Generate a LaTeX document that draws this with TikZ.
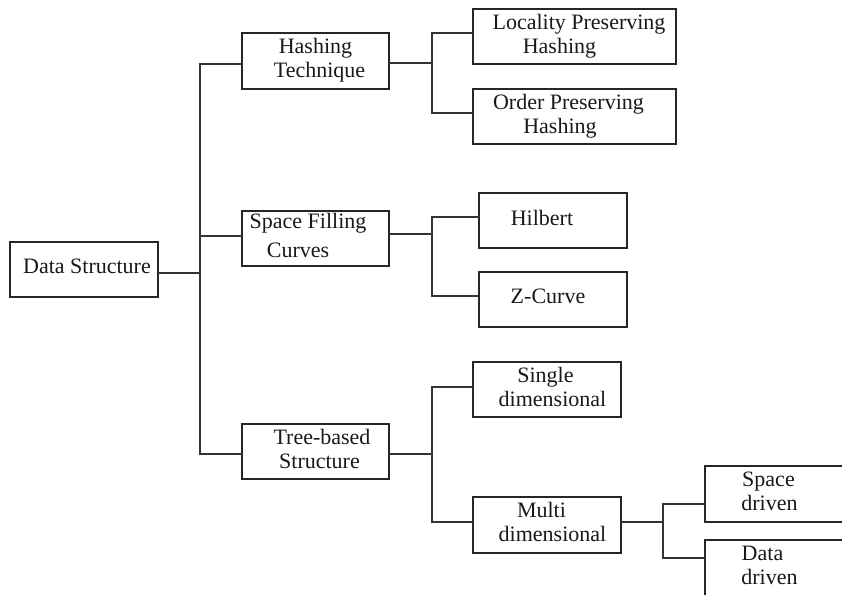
\documentclass[tikz,border=0pt]{standalone}
\usepackage{fontspec}
\setmainfont{Liberation Serif}
% move one line of a centred node text sideways by #1
\newcommand\shiftln[2]{\hspace*{#1}\hspace*{#1}#2}
\begin{document}
\begin{tikzpicture}[x=1pt,y=-1pt,
  box/.style={draw=black!85, line width=1.2pt, rectangle, inner sep=0pt,
    align=center, text depth=6pt, text=black!90,
    font=\fontsize{22}{24}\selectfont},
  wire/.style={draw=black!80, line width=1.1pt, line cap=rect}]
\useasboundingbox (0,0) rectangle (842,594);
\clip (0,0) rectangle (842,594);
\fill[white] (0,0) rectangle (842,594);

% root
\node[box, minimum width=148pt, minimum height=55pt] (ds) at (84,269.5)
  {\shiftln{3pt}{Data Structure}};

% first level
\node[box, minimum width=147pt, minimum height=56pt] (hash) at (315.5,61)
  {Hashing\\\shiftln{4pt}{Technique}};
\node[box, minimum width=147pt, minimum height=55pt] (sfc) at (315.5,238.5)
  {\shiftln{-7.5pt}{Space Filling}\\[5pt]\shiftln{-17.5pt}{Curves}};
\node[box, minimum width=147pt, minimum height=55pt] (tree) at (315.5,451.5)
  {\shiftln{6.5pt}{Tree-based}\\\shiftln{4pt}{Structure}};

% second level
\node[box, minimum width=203pt, minimum height=55pt] (lph) at (574.5,36.5)
  {\shiftln{4.5pt}{Locality Preserving}\\\shiftln{-15pt}{Hashing}};
\node[box, minimum width=203pt, minimum height=55pt] (oph) at (574.5,116.5)
  {\shiftln{-6pt}{Order Preserving}\\\shiftln{-14.5pt}{Hashing}};
\node[box, minimum width=148pt, minimum height=55pt] (hil) at (553,220.5)
  {\shiftln{-11pt}{Hilbert}};
\node[box, minimum width=148pt, minimum height=55pt] (zc) at (553,299.5)
  {\shiftln{-5pt}{Z-Curve}};
\node[box, minimum width=148pt, minimum height=55pt] (sd) at (547,389.5)
  {\shiftln{-1.5pt}{Single}\\\shiftln{5.5pt}{dimensional}};
\node[box, minimum width=148pt, minimum height=56pt] (md) at (547,525)
  {\shiftln{-5.5pt}{Multi}\\\shiftln{5.5pt}{dimensional}};

% third level
\node[box, minimum width=155pt, minimum height=56pt] (spd) at (782.5,494)
  {\shiftln{-14pt}{Space}\\\shiftln{-13pt}{driven}};
\node[box, minimum width=155pt, minimum height=56pt] (dd) at (782.5,568)
  {\shiftln{-20pt}{Data}\\\shiftln{-13pt}{driven}};

% junction points
\coordinate (m0) at (200,273);
\coordinate (m1) at (200,64);
\coordinate (m2) at (200,236);
\coordinate (m3) at (200,454);
\coordinate (h0) at (432,63);
\coordinate (h1) at (432,33);
\coordinate (h2) at (432,113);
\coordinate (s0) at (432,234);
\coordinate (s1) at (432,217);
\coordinate (s2) at (432,296);
\coordinate (t0) at (432,454);
\coordinate (t1) at (432,387);
\coordinate (t2) at (432,522);
\coordinate (d0) at (663,522);
\coordinate (d1) at (663,504);
\coordinate (d2) at (663,558);

% root to first level
\draw[wire] (ds.east |- m0) -- (m0);
\draw[wire] (hash.west |- m1) -- (m1) -- (m3) -- (tree.west |- m3);
\draw[wire] (m2) -- (sfc.west |- m2);

% hashing branch
\draw[wire] (hash.east |- h0) -- (h0);
\draw[wire] (lph.west |- h1) -- (h1) -- (h2) -- (oph.west |- h2);

% space filling branch
\draw[wire] (sfc.east |- s0) -- (s0);
\draw[wire] (hil.west |- s1) -- (s1) -- (s2) -- (zc.west |- s2);

% tree branch
\draw[wire] (tree.east |- t0) -- (t0);
\draw[wire] (sd.west |- t1) -- (t1) -- (t2) -- (md.west |- t2);

% multi dimensional branch
\draw[wire] (md.east |- d0) -- (d0);
\draw[wire] (spd.west |- d1) -- (d1) -- (d2) -- (dd.west |- d2);
\end{tikzpicture}
\end{document}
